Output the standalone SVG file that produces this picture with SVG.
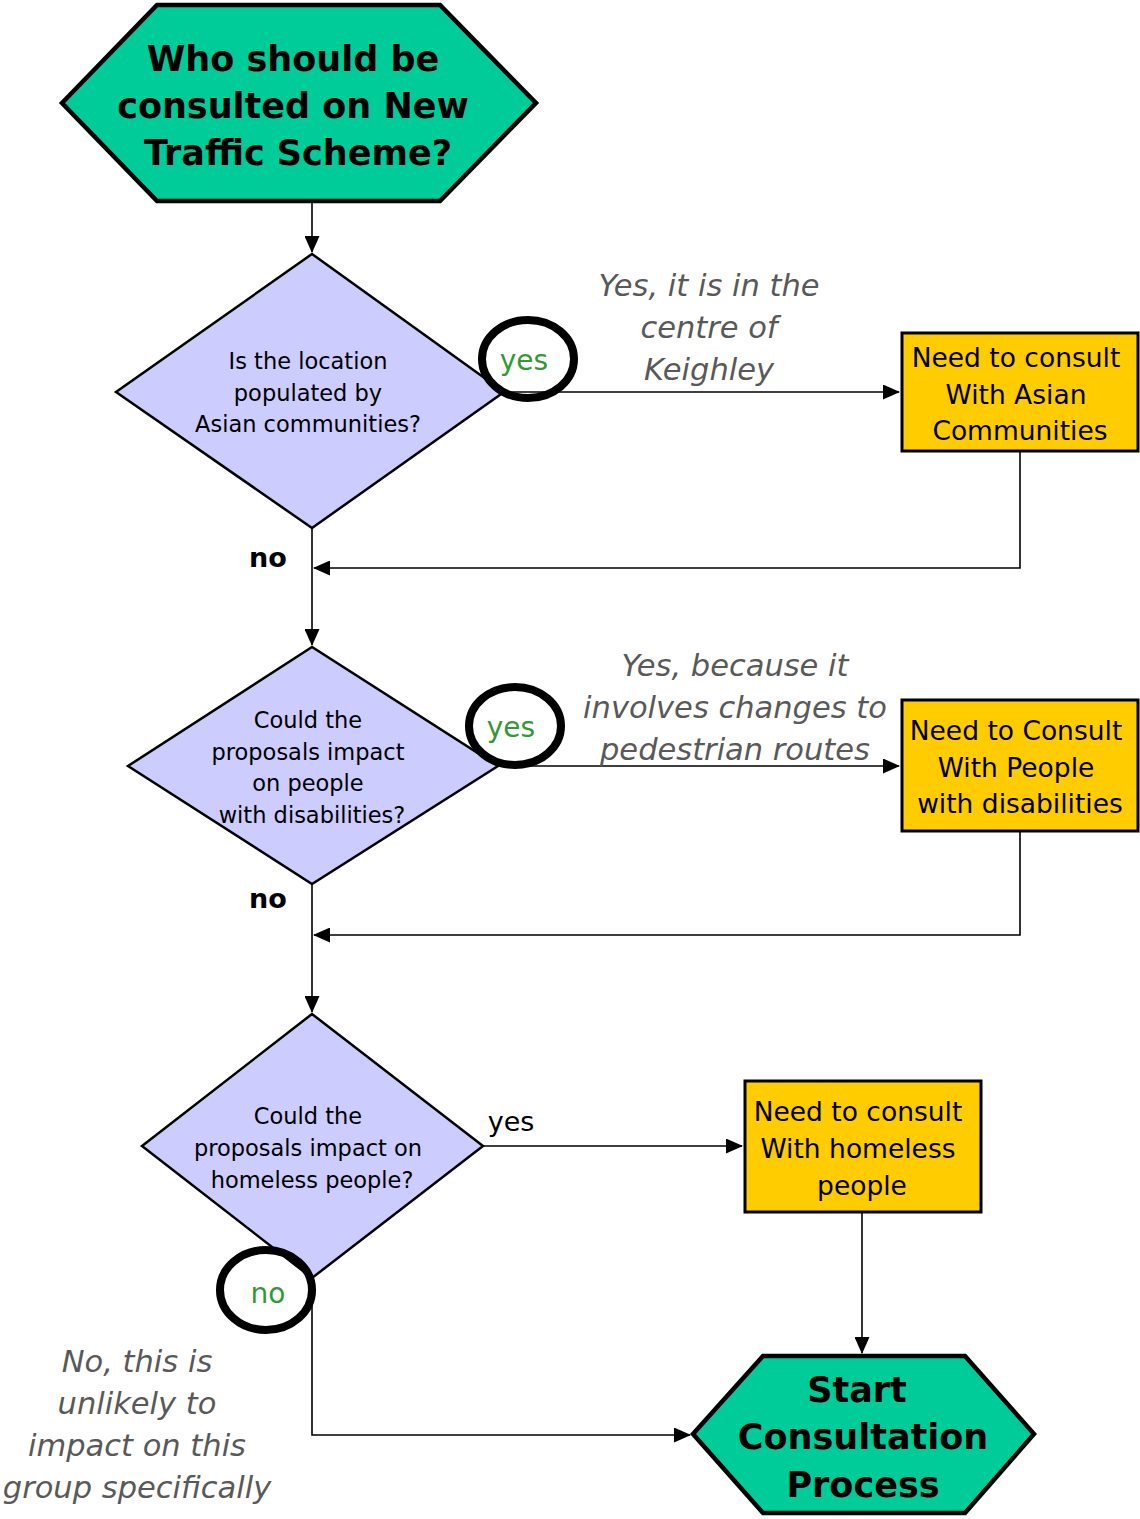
<svg xmlns="http://www.w3.org/2000/svg" width="1140" height="1519" viewBox="0 0 1140 1519">
<defs>
<marker id="arr" markerUnits="userSpaceOnUse" markerWidth="17" markerHeight="15" refX="16" refY="7.5" orient="auto">
<path d="M0,0 L17,7.5 L0,15 Z" fill="#000"/>
</marker>
<style>
.t{font-family:"DejaVu Sans",sans-serif;text-anchor:middle;fill:#000}
.hex{fill:#00CC99;stroke:#000;stroke-width:4.5;stroke-linejoin:miter}
.dia{fill:#CCCCFF;stroke:#000;stroke-width:2.5}
.box{fill:#FFCC00;stroke:#000;stroke-width:3}
.ring{fill:none;stroke:#000;stroke-width:8}
.title{font-size:35px;font-weight:bold}
.q{font-size:22.5px}
.b{font-size:26.5px}
.note{font-size:30.5px;font-style:italic;fill:#595959}
.green{font-size:28px;fill:#339933}
.lbl{font-size:27px}
.c{fill:none;stroke:#000;stroke-width:1.6}
</style>
</defs>
<rect width="1140" height="1519" fill="#fff"/>

<g id="connectors">
<path class="c" d="M312,202 L312,252" marker-end="url(#arr)"/>
<path class="c" d="M504,392 L899,392" marker-end="url(#arr)"/>
<path class="c" d="M1020,452 L1020,568 L314,568" marker-end="url(#arr)"/>
<path class="c" d="M312,528 L312,645" marker-end="url(#arr)"/>
<path class="c" d="M498,766 L899,766" marker-end="url(#arr)"/>
<path class="c" d="M1020,832 L1020,935 L314,935" marker-end="url(#arr)"/>
<path class="c" d="M312,884 L312,1012" marker-end="url(#arr)"/>
<path class="c" d="M483,1146 L742,1146" marker-end="url(#arr)"/>
<path class="c" d="M862,1213 L862,1353" marker-end="url(#arr)"/>
<path class="c" d="M312,1278 L312,1435 L690,1435" marker-end="url(#arr)"/>
</g>

<g id="start">
<polygon class="hex" points="62,103 157,5 440,5 536,103 440,201 157,201"/>
<text class="t title" x="293" y="71">Who should be</text>
<text class="t title" x="293" y="118">consulted on New</text>
<text class="t title" x="298" y="165">Traffic Scheme?</text>
</g>

<g id="q1">
<polygon class="dia" points="312,254 116,392 312,528 504,392"/>
<text class="t q" x="308" y="369">Is the location</text>
<text class="t q" x="308" y="401">populated by</text>
<text class="t q" x="308" y="432">Asian communities?</text>
</g>

<g id="yes1">
<ellipse class="ring" cx="528" cy="359" rx="46" ry="39"/>
<text class="t green" x="524" y="370">yes</text>
</g>

<g id="note1">
<text class="t note" x="709" y="296">Yes, it is in the</text>
<text class="t note" x="709" y="338">centre of</text>
<text class="t note" x="709" y="380">Keighley</text>
</g>

<g id="box1">
<rect class="box" x="902" y="333" width="236" height="118"/>
<text class="t b" x="1016" y="367">Need to consult</text>
<text class="t b" x="1016" y="404">With Asian</text>
<text class="t b" x="1020" y="440">Communities</text>
</g>

<g id="no1"><text class="t lbl" x="268" y="567" font-weight="bold">no</text></g>

<g id="q2">
<polygon class="dia" points="312,647 128,766 312,884 498,766"/>
<text class="t q" x="308" y="728">Could the</text>
<text class="t q" x="308" y="760">proposals impact</text>
<text class="t q" x="308" y="791">on people</text>
<text class="t q" x="312" y="823">with disabilities?</text>
</g>

<g id="yes2">
<ellipse class="ring" cx="515" cy="726" rx="46" ry="39"/>
<text class="t green" x="511" y="737">yes</text>
</g>

<g id="note2">
<text class="t note" x="735" y="676">Yes, because it</text>
<text class="t note" x="735" y="718">involves changes to</text>
<text class="t note" x="735" y="760">pedestrian routes</text>
</g>

<g id="box2">
<rect class="box" x="902" y="700" width="236" height="131"/>
<text class="t b" x="1016" y="740">Need to Consult</text>
<text class="t b" x="1016" y="777">With People</text>
<text class="t b" x="1020" y="813">with disabilities</text>
</g>

<g id="no2"><text class="t lbl" x="268" y="908" font-weight="bold">no</text></g>

<g id="q3">
<polygon class="dia" points="312,1014 142,1146 312,1278 483,1146"/>
<text class="t q" x="308" y="1124">Could the</text>
<text class="t q" x="308" y="1156">proposals impact on</text>
<text class="t q" x="312" y="1188">homeless people?</text>
</g>

<g id="yes3"><text class="t lbl" x="511" y="1131">yes</text></g>

<g id="box3">
<rect class="box" x="745" y="1081" width="236" height="131"/>
<text class="t b" x="858" y="1121">Need to consult</text>
<text class="t b" x="858" y="1158">With homeless</text>
<text class="t b" x="862" y="1195">people</text>
</g>

<g id="no3">
<ellipse class="ring" cx="266" cy="1290" rx="46" ry="40"/>
<text class="t green" x="268" y="1303">no</text>
</g>

<g id="note3">
<text class="t note" x="137" y="1372">No, this is</text>
<text class="t note" x="137" y="1414">unlikely to</text>
<text class="t note" x="137" y="1456">impact on this</text>
<text class="t note" x="137" y="1498">group specifically</text>
</g>

<g id="end">
<polygon class="hex" points="693,1434 763,1356 965,1356 1034,1434 965,1513 763,1513"/>
<text class="t title" x="857" y="1402">Start</text>
<text class="t title" x="863" y="1449">Consultation</text>
<text class="t title" x="863" y="1497">Process</text>
</g>
</svg>
